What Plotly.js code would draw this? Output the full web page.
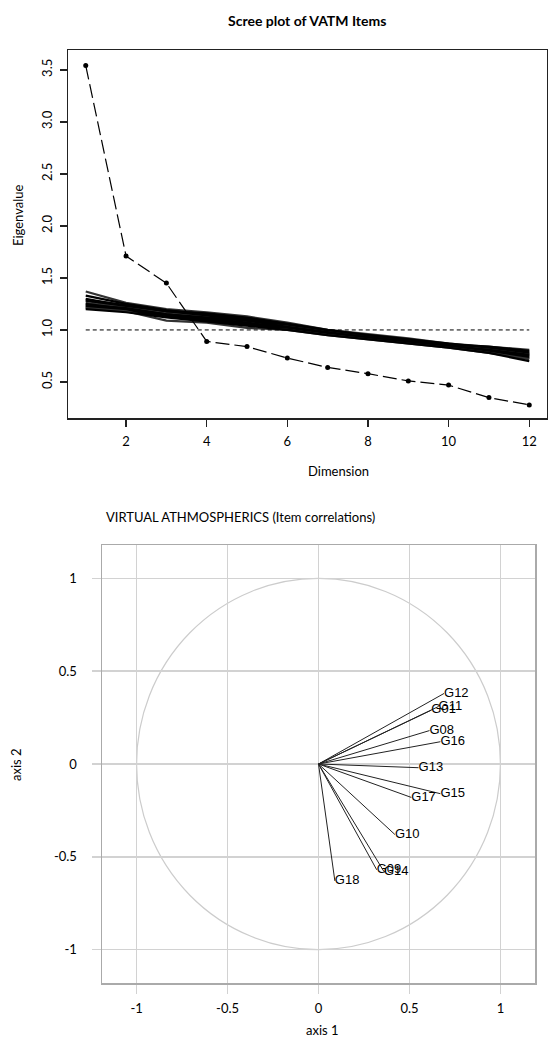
<!DOCTYPE html>
<html>
<head>
<meta charset="utf-8">
<script src="https://cdn.plot.ly/plotly-3.0.1.min.js"></script>
<style>html,body{margin:0;padding:0;background:#fff;}#chart{width:548px;height:1037px;}</style>
</head>
<body>
<div id="chart"></div>
<script>
// ---- Scree plot data ----
var dims = [1,2,3,4,5,6,7,8,9,10,11,12];
var eigenvalues = [3.54,1.71,1.45,0.89,0.84,0.73,0.64,0.58,0.51,0.47,0.35,0.28];
var threshold = [1,1];
var thresholdX = [1,12];
// simulated (parallel analysis) eigenvalue curves, read from the band
var sim01 = [1.37,1.26,1.20,1.17,1.13,1.07,1.00,0.96,0.92,0.87,0.84,0.81];
var sim02 = [1.33,1.25,1.19,1.15,1.11,1.05,0.99,0.95,0.91,0.87,0.83,0.79];
var sim03 = [1.30,1.23,1.17,1.14,1.10,1.04,0.99,0.94,0.90,0.86,0.82,0.78];
var sim04 = [1.28,1.22,1.16,1.13,1.08,1.03,0.98,0.94,0.90,0.86,0.82,0.77];
var sim05 = [1.26,1.21,1.16,1.12,1.07,1.03,0.98,0.93,0.89,0.85,0.81,0.76];
var sim06 = [1.25,1.20,1.15,1.11,1.07,1.02,0.97,0.93,0.89,0.85,0.80,0.75];
var sim07 = [1.23,1.19,1.14,1.10,1.06,1.02,0.97,0.92,0.88,0.84,0.80,0.74];
var sim08 = [1.22,1.18,1.13,1.09,1.05,1.01,0.96,0.92,0.88,0.84,0.79,0.73];
var sim09 = [1.21,1.18,1.09,1.07,1.02,1.00,0.95,0.91,0.87,0.83,0.78,0.72];
var sim10 = [1.20,1.17,1.12,1.08,1.04,1.00,0.95,0.91,0.87,0.83,0.78,0.70];
var sim11 = [1.29,1.24,1.18,1.16,1.12,1.06,1.00,0.95,0.91,0.86,0.84,0.80];
var sim12 = [1.24,1.21,1.15,1.12,1.09,1.03,0.98,0.93,0.89,0.85,0.81,0.76];
var simLines = [sim01,sim02,sim03,sim04,sim05,sim06,sim07,sim08,sim09,sim10,sim11,sim12];
var screeXTicks = [2,4,6,8,10,12];
var screeYTicks = [0.5,1.0,1.5,2.0,2.5,3.0,3.5];
var screeYTickText = ['0.5','1.0','1.5','2.0','2.5','3.0','3.5'];

// ---- Correlation circle data ----
var items = ['G12','G11','G01','G08','G16','G13','G15','G17','G10','G09','G14','G18'];
var axis1 = [0.69,0.66,0.62,0.61,0.67,0.55,0.67,0.51,0.42,0.32,0.36,0.09];
var axis2 = [0.38,0.31,0.29,0.18,0.12,-0.02,-0.16,-0.18,-0.38,-0.57,-0.58,-0.63];
var circTicks = [-1,-0.5,0,0.5,1];
var circTickText = ['-1','-0.5','0','0.5','1'];

var traces = [];
simLines.forEach(function(s, i){
  traces.push({x: dims, y: s, type:'scatter', mode:'lines',
    line:{color: i%4===0 ? '#333' : '#000', width:2.2}, hoverinfo:'skip',
    xaxis:'x', yaxis:'y', showlegend:false});
});
traces.push({x: thresholdX, y: threshold, type:'scatter', mode:'lines',
  line:{color:'#000', width:1, dash:'4px,3px'}, xaxis:'x', yaxis:'y', showlegend:false});
traces.push({x: dims, y: eigenvalues, type:'scatter', mode:'lines+markers',
  line:{color:'#000', width:1.2, dash:'14px,5px'},
  marker:{color:'#000', size:5}, xaxis:'x', yaxis:'y', showlegend:false});

// arrows
var ax = [], ay = [];
for (var i=0;i<items.length;i++){ ax.push(0, axis1[i], null); ay.push(0, axis2[i], null); }
traces.push({x: ax, y: ay, type:'scatter', mode:'lines', line:{color:'#222', width:1},
  xaxis:'x2', yaxis:'y2', showlegend:false, hoverinfo:'skip'});
traces.push({x: axis1, y: axis2, text: items, type:'scatter', mode:'text',
  textposition:'middle right', textfont:{family:'Liberation Sans, Arial, sans-serif', size:13, color:'#000'},
  xaxis:'x2', yaxis:'y2', showlegend:false});

var W = 548, H = 1037;
function px(x){ return x/W; }
function py(y){ return 1 - y/H; }
var fontC = 'Lato, "Open Sans", sans-serif';

var layout = {
  width: W, height: H,
  margin:{l:0,r:0,t:0,b:0},
  paper_bgcolor:'#fff', plot_bgcolor:'#fff',
  font:{family: fontC, color:'#000'},
  xaxis:{domain:[px(68), px(547)], range:[0.56,12.44], tickvals:screeXTicks,
    showline:true, mirror:true, linecolor:'#222', linewidth:1.5, ticks:'outside', ticklen:7,
    tickcolor:'#222', tickwidth:1.5, showgrid:false, zeroline:false, tickfont:{size:13, family:fontC, color:'#000'},
    ticklabelstandoff:4},
  yaxis:{domain:[py(418), py(50)], range:[0.154,3.69], tickvals:screeYTicks, ticktext:screeYTickText,
    tickangle:-90, showline:true, mirror:true, linecolor:'#222', linewidth:1.5, ticks:'outside',
    ticklen:7, tickcolor:'#222', tickwidth:1.5, showgrid:false, zeroline:false,
    tickfont:{size:13, family:fontC, color:'#000'}, ticklabelstandoff:2},
  xaxis2:{domain:[px(102), px(535)], range:[-1.19,1.19], tickvals:circTicks, ticktext:circTickText,
    showline:true, mirror:true, linecolor:'#aaa', linewidth:1.5, ticks:'outside', ticklen:9,
    tickcolor:'#d2d2d2', tickwidth:1.5, showgrid:true, gridcolor:'#d2d2d2', gridwidth:1.5,
    zeroline:false, tickfont:{size:13, family:fontC, color:'#000'}, ticklabelstandoff:4, anchor:'y2'},
  yaxis2:{domain:[py(983), py(545)], range:[-1.18,1.18], tickvals:circTicks, ticktext:circTickText,
    showline:true, mirror:true, linecolor:'#aaa', linewidth:1.5, ticks:'outside', ticklen:9,
    tickcolor:'#d2d2d2', tickwidth:1.5, showgrid:true, gridcolor:'#d2d2d2', gridwidth:1.5,
    zeroline:false, tickfont:{size:13, family:fontC, color:'#000'}, ticklabelstandoff:12, anchor:'x2'},
  shapes:[{type:'circle', xref:'x2', yref:'y2', x0:-1, y0:-1, x1:1, y1:1,
    line:{color:'#cccccc', width:1.2}, layer:'below'}],
  annotations:[
    {text:'<b>Scree plot of VATM Items</b>', xref:'paper', yref:'paper', x:px(307), y:py(20),
     showarrow:false, font:{size:14, family:fontC, color:'#000'}, xanchor:'center', yanchor:'middle'},
    {text:'Eigenvalue', xref:'paper', yref:'paper', x:px(18), y:py(215), textangle:-90,
     showarrow:false, font:{size:13, family:fontC, color:'#000'}, xanchor:'center', yanchor:'middle'},
    {text:'Dimension', xref:'paper', yref:'paper', x:px(338), y:py(471),
     showarrow:false, font:{size:13, family:fontC, color:'#000'}, xanchor:'center', yanchor:'middle'},
    {text:'VIRTUAL ATHMOSPHERICS (Item correlations)', xref:'paper', yref:'paper', x:px(104), y:py(517),
     showarrow:false, font:{size:13, family:fontC, color:'#000'}, xanchor:'left', yanchor:'middle'},
    {text:'axis 1', xref:'paper', yref:'paper', x:px(322), y:py(1030),
     showarrow:false, font:{size:13, family:fontC, color:'#000'}, xanchor:'center', yanchor:'middle'},
    {text:'axis 2', xref:'paper', yref:'paper', x:px(16), y:py(765), textangle:-90,
     showarrow:false, font:{size:13, family:fontC, color:'#000'}, xanchor:'center', yanchor:'middle'}
  ]
};
Plotly.newPlot('chart', traces, layout, {displayModeBar:false, staticPlot:true});
</script>
</body>
</html>
